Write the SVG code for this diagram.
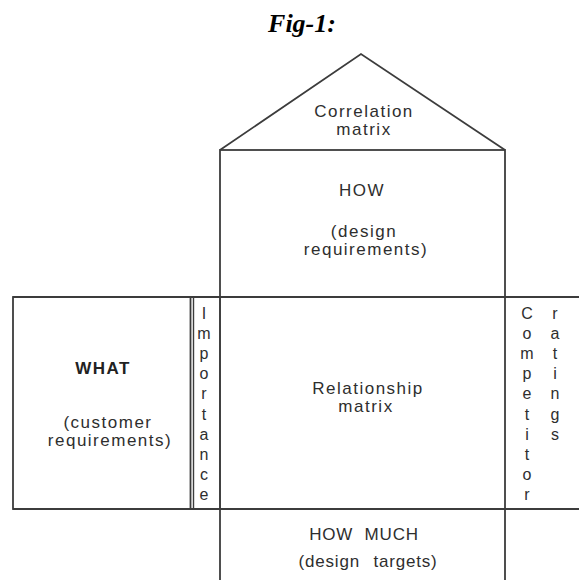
<svg xmlns="http://www.w3.org/2000/svg" width="579" height="580" viewBox="0 0 579 580">
<style>
.ln{fill:none;stroke:#3c3c3c;stroke-width:1.8;stroke-linejoin:miter}
.thin{stroke-width:1.4}
.t{font-family:"Liberation Sans",Arial,Helvetica,sans-serif;font-size:17px;fill:#2e2e2e;text-anchor:middle;letter-spacing:1.5px}
.v{font-family:"Liberation Sans",Arial,Helvetica,sans-serif;font-size:16px;fill:#2e2e2e;text-anchor:middle}
.b{font-weight:bold;font-size:17px;letter-spacing:1.5px;fill:#222}
.fig{font-family:"Liberation Serif","Times New Roman",serif;font-size:26px;font-weight:bold;font-style:italic;fill:#000;text-anchor:middle}
</style>
<rect width="579" height="580" fill="#fff"/>
<text class="fig" x="302" y="32">Fig-1:</text>
<g id="connectors">
<line class="ln" x1="13" y1="297" x2="579" y2="297"/>
<line class="ln" x1="13" y1="509" x2="579" y2="509"/>
</g>
<g id="roof">
<polyline class="ln" points="220,150 361,54 505,150"/>
<text class="t" x="364" y="117">Correlation</text>
<text class="t" x="364" y="135">matrix</text>
</g>
<g id="how">
<rect class="ln" x="220" y="150" width="285" height="147"/>
<text class="t" x="362" y="196">HOW</text>
<text class="t" x="364" y="237">(design</text>
<text class="t" x="366" y="255">requirements)</text>
</g>
<g id="what">
<rect class="ln" x="13" y="297" width="177.5" height="212"/>
<text class="t b" x="103" y="374">WHAT</text>
<text class="t" x="108" y="428">(customer</text>
<text class="t" x="110" y="446">requirements)</text>
</g>
<g id="importance">
<rect class="ln thin" x="193.5" y="297" width="26.5" height="212"/>
<text class="v" x="204" y="319">I</text>
<text class="v" x="204" y="339">m</text>
<text class="v" x="204" y="359">p</text>
<text class="v" x="204" y="379">o</text>
<text class="v" x="204" y="399">r</text>
<text class="v" x="204" y="420">t</text>
<text class="v" x="204" y="440">a</text>
<text class="v" x="204" y="460">n</text>
<text class="v" x="204" y="480">c</text>
<text class="v" x="204" y="500">e</text>
</g>
<g id="relationship">
<rect class="ln" x="220" y="297" width="285" height="212"/>
<text class="t" x="368" y="394">Relationship</text>
<text class="t" x="366" y="412">matrix</text>
</g>
<g id="competitor">
<text class="v" x="527" y="319">C</text>
<text class="v" x="527" y="339">o</text>
<text class="v" x="527" y="359">m</text>
<text class="v" x="527" y="379">p</text>
<text class="v" x="527" y="399">e</text>
<text class="v" x="527" y="420">t</text>
<text class="v" x="527" y="440">i</text>
<text class="v" x="527" y="460">t</text>
<text class="v" x="527" y="480">o</text>
<text class="v" x="527" y="500">r</text>
<text class="v" x="555" y="319">r</text>
<text class="v" x="555" y="339">a</text>
<text class="v" x="555" y="359">t</text>
<text class="v" x="555" y="379">i</text>
<text class="v" x="555" y="399">n</text>
<text class="v" x="555" y="420">g</text>
<text class="v" x="555" y="440">s</text>
</g>
<g id="howmuch">
<path class="ln" d="M220,509 V580 M505,509 V580"/>
<text class="t" x="364" y="540" style="letter-spacing:0.8px;word-spacing:6px">HOW MUCH</text>
<text class="t" x="368" y="567" style="letter-spacing:0.8px;word-spacing:8px">(design targets)</text>
</g>
</svg>
